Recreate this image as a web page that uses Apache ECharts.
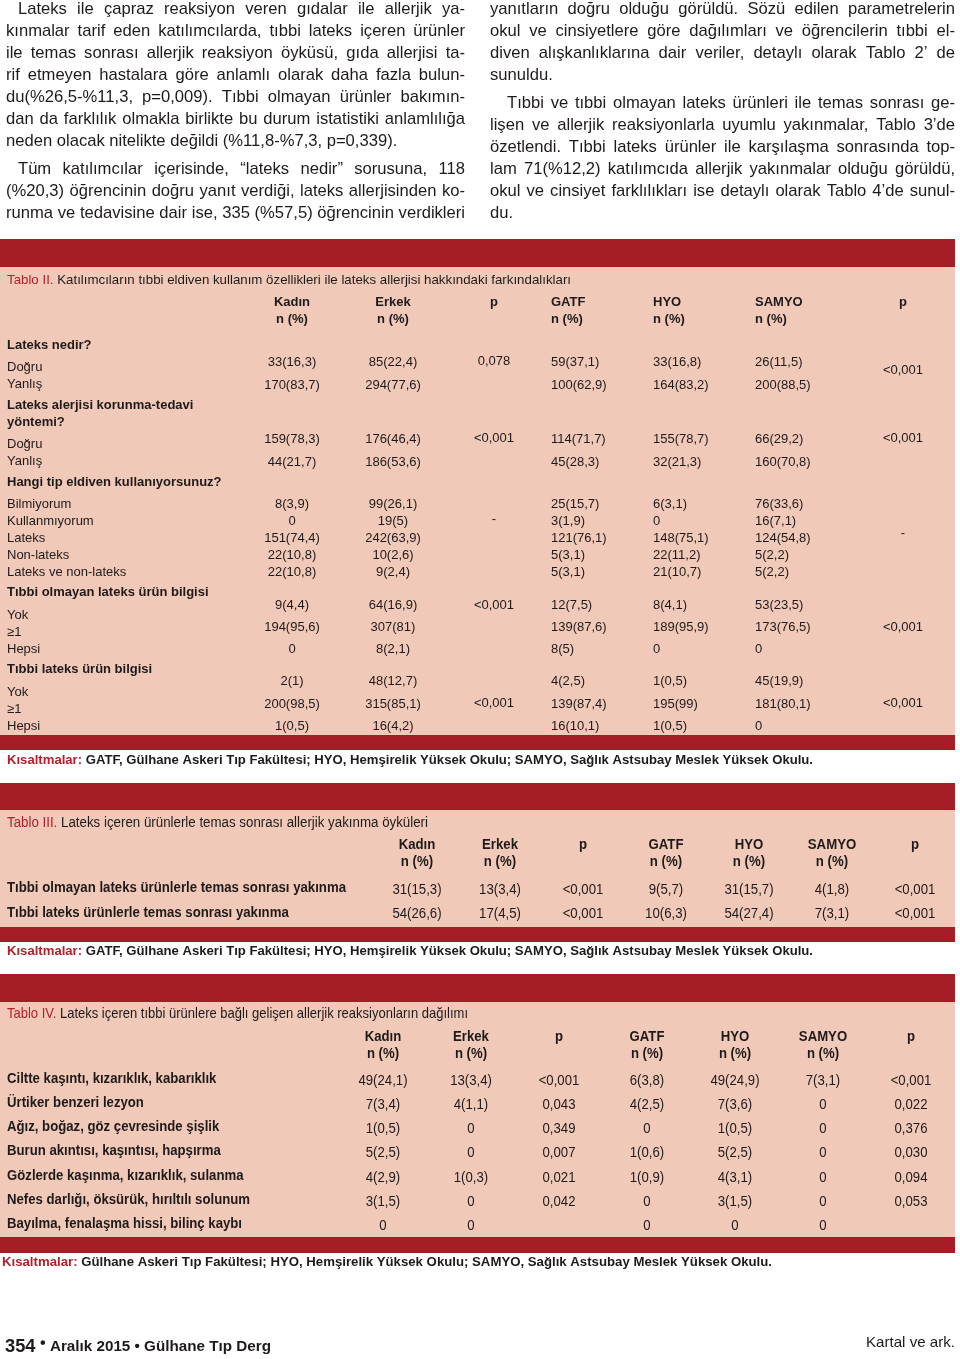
<!DOCTYPE html>
<html><head><meta charset="utf-8">
<script src="https://cdn.jsdelivr.net/npm/echarts@6/dist/echarts.min.js"></script>
<style>html,body{margin:0;padding:0;background:#fff}#c{width:960px;height:1359px}</style>
</head><body><div id="c"></div>
<script>
// ---------------- DATA ----------------
const leftPara1 = [
  "Lateks ile çapraz reaksiyon veren gıdalar ile allerjik ya-",
  "kınmalar tarif eden katılımcılarda, tıbbi lateks içeren ürünler",
  "ile temas sonrası allerjik reaksiyon öyküsü, gıda allerjisi ta-",
  "rif etmeyen hastalara göre anlamlı olarak daha fazla bulun-",
  "du(%26,5-%11,3, p=0,009). Tıbbi olmayan ürünler bakımın-",
  "dan da farklılık olmakla birlikte bu durum istatistiki anlamlılığa",
  "neden olacak nitelikte değildi (%11,8-%7,3, p=0,339)."
];
const leftPara2 = [
  "Tüm katılımcılar içerisinde, “lateks nedir” sorusuna, 118",
  "(%20,3) öğrencinin doğru yanıt verdiği, lateks allerjisinden ko-",
  "runma ve tedavisine dair ise, 335 (%57,5) öğrencinin verdikleri"
];
const rightPara1 = [
  "yanıtların doğru olduğu görüldü. Sözü edilen parametrelerin",
  "okul ve cinsiyetlere göre dağılımları ve öğrencilerin tıbbi el-",
  "diven alışkanlıklarına dair veriler, detaylı olarak Tablo 2’ de",
  "sunuldu."
];
const rightPara2 = [
  "Tıbbi ve tıbbi olmayan lateks ürünleri ile temas sonrası ge-",
  "lişen ve allerjik reaksiyonlarla uyumlu yakınmalar, Tablo 3’de",
  "özetlendi. Tıbbi lateks ürünler ile karşılaşma sonrasında top-",
  "lam 71(%12,2) katılımcıda allerjik yakınmalar olduğu görüldü,",
  "okul ve cinsiyet farklılıkları ise detaylı olarak Tablo 4’de sunul-",
  "du."
];

const t2TitleLabel = "Tablo II.";
const t2Title = " Katılımcıların tıbbi eldiven kullanım özellikleri ile lateks allerjisi hakkındaki farkındalıkları";
const t2Cols = ["Kadın", "Erkek", "p", "GATF", "HYO", "SAMYO", "p"];
const t2Sub = ["n (%)", "n (%)", "", "n (%)", "n (%)", "n (%)", ""];
const t2Labels = ["Lateks nedir?", "Doğru", "Yanlış", "Lateks alerjisi korunma-tedavi", "yöntemi?", "Doğru", "Yanlış",
  "Hangi tip eldiven kullanıyorsunuz?", "Bilmiyorum", "Kullanmıyorum", "Lateks", "Non-lateks", "Lateks ve non-lateks",
  "Tıbbi olmayan lateks ürün bilgisi", "Yok", "≥1", "Hepsi", "Tıbbi lateks ürün bilgisi", "Yok", "≥1", "Hepsi"];
const t2Kadin = ["33(16,3)", "170(83,7)", "159(78,3)", "44(21,7)", "8(3,9)", "0", "151(74,4)", "22(10,8)", "22(10,8)", "9(4,4)", "194(95,6)", "0", "2(1)", "200(98,5)", "1(0,5)"];
const t2Erkek = ["85(22,4)", "294(77,6)", "176(46,4)", "186(53,6)", "99(26,1)", "19(5)", "242(63,9)", "10(2,6)", "9(2,4)", "64(16,9)", "307(81)", "8(2,1)", "48(12,7)", "315(85,1)", "16(4,2)"];
const t2Gatf = ["59(37,1)", "100(62,9)", "114(71,7)", "45(28,3)", "25(15,7)", "3(1,9)", "121(76,1)", "5(3,1)", "5(3,1)", "12(7,5)", "139(87,6)", "8(5)", "4(2,5)", "139(87,4)", "16(10,1)"];
const t2Hyo = ["33(16,8)", "164(83,2)", "155(78,7)", "32(21,3)", "6(3,1)", "0", "148(75,1)", "22(11,2)", "21(10,7)", "8(4,1)", "189(95,9)", "0", "1(0,5)", "195(99)", "1(0,5)"];
const t2Samyo = ["26(11,5)", "200(88,5)", "66(29,2)", "160(70,8)", "76(33,6)", "16(7,1)", "124(54,8)", "5(2,2)", "5(2,2)", "53(23,5)", "173(76,5)", "0", "45(19,9)", "181(80,1)", "0"];
const t2PGender = ["0,078", "<0,001", "-", "<0,001", "<0,001"];
const t2PSchool = ["<0,001", "<0,001", "-", "<0,001", "<0,001"];
const abbrLabel = "Kısaltmalar:";
const abbrFull = " GATF, Gülhane Askeri Tıp Fakültesi; HYO, Hemşirelik Yüksek Okulu; SAMYO, Sağlık Astsubay Meslek Yüksek Okulu.";
const abbrShort = " Gülhane Askeri Tıp Fakültesi; HYO, Hemşirelik Yüksek Okulu; SAMYO, Sağlık Astsubay Meslek Yüksek Okulu.";

const t3TitleLabel = "Tablo III.";
const t3Title = " Lateks içeren ürünlerle temas sonrası allerjik yakınma öyküleri";
const t3Cols = ["Kadın", "Erkek", "p", "GATF", "HYO", "SAMYO", "p"];
const t3Sub = ["n (%)", "n (%)", "", "n (%)", "n (%)", "n (%)", ""];
const t3Labels = ["Tıbbi olmayan lateks ürünlerle temas sonrası yakınma", "Tıbbi lateks ürünlerle temas sonrası yakınma"];
const t3Kadin = ["31(15,3)", "54(26,6)"];
const t3Erkek = ["13(3,4)", "17(4,5)"];
const t3P1 = ["<0,001", "<0,001"];
const t3Gatf = ["9(5,7)", "10(6,3)"];
const t3Hyo = ["31(15,7)", "54(27,4)"];
const t3Samyo = ["4(1,8)", "7(3,1)"];
const t3P2 = ["<0,001", "<0,001"];

const t4TitleLabel = "Tablo IV.";
const t4Title = " Lateks içeren tıbbi ürünlere bağlı gelişen allerjik reaksiyonların dağılımı";
const t4Cols = ["Kadın", "Erkek", "p", "GATF", "HYO", "SAMYO", "p"];
const t4Sub = ["n (%)", "n (%)", "", "n (%)", "n (%)", "n (%)", ""];
const t4Labels = ["Ciltte kaşıntı, kızarıklık, kabarıklık", "Ürtiker benzeri lezyon", "Ağız, boğaz, göz çevresinde şişlik",
  "Burun akıntısı, kaşıntısı, hapşırma", "Gözlerde kaşınma, kızarıklık, sulanma", "Nefes darlığı, öksürük, hırıltılı solunum",
  "Bayılma, fenalaşma hissi, bilinç kaybı"];
const t4Kadin = ["49(24,1)", "7(3,4)", "1(0,5)", "5(2,5)", "4(2,9)", "3(1,5)", "0"];
const t4Erkek = ["13(3,4)", "4(1,1)", "0", "0", "1(0,3)", "0", "0"];
const t4P1 = ["<0,001", "0,043", "0,349", "0,007", "0,021", "0,042", ""];
const t4Gatf = ["6(3,8)", "4(2,5)", "0", "1(0,6)", "1(0,9)", "0", "0"];
const t4Hyo = ["49(24,9)", "7(3,6)", "1(0,5)", "5(2,5)", "4(3,1)", "3(1,5)", "0"];
const t4Samyo = ["7(3,1)", "0", "0", "0", "0", "0", "0"];
const t4P2 = ["<0,001", "0,022", "0,376", "0,030", "0,094", "0,053", ""];

const footerNum = "354";
const footerRest = " Aralık 2015 • Gülhane Tıp Derg";
const footerRight = "Kartal ve ark.";

// ---------------- LAYOUT ----------------
const RED = "#a41c24", PINK = "#f0c9b8", TRED = "#b3202c", INK = "#1f1a1a";
const FF = '"Liberation Sans", Arial, sans-serif';
const ctx = document.createElement("canvas").getContext("2d");
function mw(s, size, bold) { ctx.font = (bold ? "bold " : "") + size + "px " + FF; return ctx.measureText(s).width; }
const g = [];
function rect(x, y, w, h, fill) { g.push({ type: "rect", silent: true, shape: { x, y, width: w, height: h }, style: { fill } }); }
function txt(x, y, s, o) {
  o = o || {};
  const size = o.size || 13, bold = !!o.bold, al = o.align || "left";
  let sx = o.sx || 1;
  if (o.w) sx = o.w / mw(s, size, bold);
  g.push({ type: "text", x, y, scaleX: sx, silent: true,
    style: { text: s, x: 0, y: 0, fill: o.color || INK, fontSize: size, fontFamily: FF,
      fontWeight: bold ? "bold" : "normal", textAlign: al, align: al, textVerticalAlign: "middle", verticalAlign: "middle" } });
}
function runs(x, y, parts, o) {
  o = o || {};
  const tot = parts.reduce((a, p) => a + mw(p.t, p.size, p.bold), 0);
  const sx = o.w ? o.w / tot : (o.sx || 1);
  let cx = x;
  parts.forEach(p => { txt(cx, y + (p.dy || 0), p.t, { size: p.size, bold: p.bold, color: p.color, sx }); cx += mw(p.t, p.size, p.bold) * sx; });
}
function para(lines, x0, x1, y0, indent, lastJust) {
  const size = 16.6, lh = 22;
  lines.forEach((ln, i) => {
    const y = y0 + i * lh, xs = x0 + (i === 0 ? indent : 0);
    const just = i < lines.length - 1 || lastJust;
    if (!just) { txt(xs, y, ln, { size }); return; }
    const words = ln.split(" ");
    const ws = words.map(w => mw(w, size, false));
    const gap = (x1 - xs - ws.reduce((a, b) => a + b, 0)) / (words.length - 1);
    let cx = xs;
    words.forEach((w, k) => { txt(cx, y, w, { size }); cx += ws[k] + gap; });
  });
}

// body text
para(leftPara1, 6, 465, 9, 12, false);
para(leftPara2, 6, 465, 169, 12, true);
para(rightPara1, 490, 955, 9, 0, false);
para(rightPara2, 490, 955, 103, 17, false);

// ---- Table II ----
rect(0, 239, 955, 28, RED);
rect(0, 267, 955, 468, PINK);
rect(0, 735, 955, 15, RED);
runs(7, 280, [{ t: t2TitleLabel, size: 13, color: TRED }, { t: t2Title, size: 13 }], { w: 564 });
const t2X = [292, 393, 494, 551, 653, 755, 903];
const t2A = ["center", "center", "center", "left", "left", "left", "center"];
t2Cols.forEach((c, i) => { txt(t2X[i], 302, c, { bold: true, align: t2A[i] }); if (t2Sub[i]) txt(t2X[i], 319, t2Sub[i], { bold: true, align: t2A[i] }); });
const t2LabelY = [345, 367, 384, 405, 422, 444, 461, 482, 504, 521, 538, 555, 572, 592, 615, 632, 649, 669, 692, 709, 726];
const t2Bold = [0, 3, 4, 7, 13, 17];
t2Labels.forEach((l, i) => txt(7, t2LabelY[i], l, { bold: t2Bold.includes(i) }));
const t2ValY = [362, 385, 439, 462, 504, 521, 538, 555, 572, 605, 627, 649, 681, 704, 726];
[t2Kadin, t2Erkek, null, t2Gatf, t2Hyo, t2Samyo].forEach((arr, c) => {
  if (!arr) return;
  arr.forEach((v, r) => txt(t2X[c], t2ValY[r], v, { align: t2A[c] }));
});
const t2PGY = [361, 438, 519, 605, 703], t2PSY = [370, 438, 533, 627, 703];
t2PGender.forEach((v, i) => txt(t2X[2], t2PGY[i], v, { align: "center" }));
t2PSchool.forEach((v, i) => txt(t2X[6], t2PSY[i], v, { align: "center" }));
runs(7, 761, [{ t: abbrLabel, size: 12.5, bold: true, color: TRED }, { t: abbrFull, size: 12.5, bold: true }], { w: 806 });

// ---- Table III ----
rect(0, 783, 955, 27, RED);
rect(0, 810, 955, 117, PINK);
rect(0, 927, 955, 15, RED);
const sx3 = 339 / mw(t3Labels[0], 14, true);
runs(7, 823, [{ t: t3TitleLabel, size: 14, color: TRED }, { t: t3Title, size: 14 }], { w: 421 });
const t3X = [417, 500, 583, 666, 749, 832, 915];
t3Cols.forEach((c, i) => { txt(t3X[i], 845, c, { bold: true, size: 14, sx: sx3, align: "center" }); if (t3Sub[i]) txt(t3X[i], 862, t3Sub[i], { bold: true, size: 14, sx: sx3, align: "center" }); });
const t3LY = [888, 913], t3VY = [890, 914];
t3Labels.forEach((l, i) => txt(7, t3LY[i], l, { bold: true, size: 14, sx: sx3 }));
[t3Kadin, t3Erkek, t3P1, t3Gatf, t3Hyo, t3Samyo, t3P2].forEach((arr, c) => arr.forEach((v, r) => txt(t3X[c], t3VY[r], v, { size: 14, sx: sx3, align: "center" })));
runs(7, 952, [{ t: abbrLabel, size: 12.5, bold: true, color: TRED }, { t: abbrFull, size: 12.5, bold: true }], { w: 806 });

// ---- Table IV ----
rect(0, 974, 955, 28, RED);
rect(0, 1002, 955, 235, PINK);
rect(0, 1237, 955, 16, RED);
const sx4 = 243 / mw(t4Labels[5], 14.5, true);
runs(7, 1014, [{ t: t4TitleLabel, size: 14.5, color: TRED }, { t: t4Title, size: 14.5 }], { w: 461 });
const t4X = [383, 471, 559, 647, 735, 823, 911];
t4Cols.forEach((c, i) => { txt(t4X[i], 1037, c, { bold: true, size: 14.5, sx: sx4, align: "center" }); if (t4Sub[i]) txt(t4X[i], 1054, t4Sub[i], { bold: true, size: 14.5, sx: sx4, align: "center" }); });
const t4LY = [1079, 1103, 1127, 1151, 1176, 1200, 1224];
t4Labels.forEach((l, i) => txt(7, t4LY[i], l, { bold: true, size: 14.5, sx: sx4 }));
[t4Kadin, t4Erkek, t4P1, t4Gatf, t4Hyo, t4Samyo, t4P2].forEach((arr, c) => arr.forEach((v, r) => { if (v) txt(t4X[c], t4LY[r] + 2, v, { size: 14.5, sx: sx4, align: "center" }); }));
runs(2, 1263, [{ t: abbrLabel, size: 12.5, bold: true, color: TRED }, { t: abbrShort, size: 12.5, bold: true }], { w: 770 });

// ---- Footer ----
runs(5, 1347, [{ t: footerNum, size: 18, bold: true }, { t: " •", size: 16, bold: true, dy: -3 }, { t: footerRest, size: 15, bold: true }], { w: 266 });
txt(955, 1343, footerRight, { size: 15, align: "right", w: 89 });

const chart = echarts.init(document.getElementById("c"), null, { renderer: "canvas" });
chart.setOption({ backgroundColor: "#ffffff", animation: false, graphic: { elements: g } });
</script></body></html>
